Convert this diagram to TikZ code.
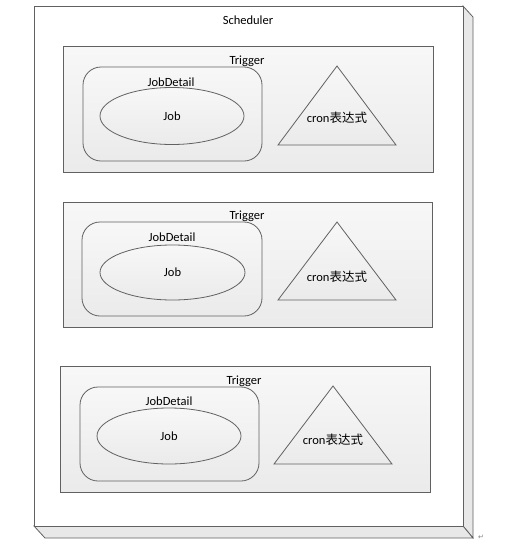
\documentclass[tikz,border=0pt]{standalone}
\usepackage{fontspec}
\setmainfont{Carlito}
\newfontfamily\cjk{Noto Sans CJK SC}
\newfontfamily\symfont{DejaVu Sans}
\usetikzlibrary{positioning,shapes.geometric,shadows}
\definecolor{linecolor}{rgb}{0.38, 0.38, 0.38}
\definecolor{sidecolor}{rgb}{0.91, 0.91, 0.91}

\begin{document}
\begin{tikzpicture}[x=1pt,y=-1pt,font=\fontsize{12.5pt}{15pt}\selectfont,
    trigbox/.style={rectangle, draw=linecolor, line width=0.8pt, top color=white!97!black, bottom color=white!92!black, minimum width=370, minimum height=126, inner sep=0pt, drop shadow={shadow xshift=1.2pt, shadow yshift=-1.2pt, opacity=0.15}},
    jdbox/.style={rectangle, draw=linecolor, line width=0.8pt, rounded corners=18pt, top color=white!97!black, bottom color=white!92!black, minimum width=179, minimum height=94, inner sep=0pt},
    jobell/.style={ellipse, draw=linecolor, line width=0.8pt, top color=white!97!black, bottom color=white!92!black, minimum width=144, minimum height=57, inner sep=0pt},
    tri/.style={draw=linecolor, line width=0.8pt, top color=white!97!black, bottom color=white!92!black, line join=miter}]
    \useasboundingbox (0,0) rectangle (518,544);
    % Scheduler
    \filldraw [sidecolor, draw=linecolor, line width=0.8pt] (463,6) -- (473,17) -- (473,538) -- (463,526) -- cycle;
    \filldraw [sidecolor, draw=linecolor, line width=0.8pt] (34,526) -- (463,526) -- (473,538) -- (45,538) -- cycle;
    \node (sched) [rectangle, draw=linecolor, line width=0.8pt, fill=white, minimum width=429, minimum height=520, inner sep=0pt, anchor=north west] at (34,6) {};
    \node (schedlbl) at (248,20) {Scheduler};
    \node (ret) [font=\symfont\fontsize{7pt}{7pt}\selectfont, text=gray] at (481,537) {↵};

    % Trigger 1
    \node (trig1) [trigbox] at (248,109) {};
    \node (jd1) [jdbox] at (172.5,114) {};
    \node (trig1lbl) at (247,61) {Trigger};
    \node (jd1lbl) at (171,82) {JobDetail};
    \node (job1) [jobell] at (172,116) {Job};
    \coordinate (tri1) at (337,66);
    \draw [tri] (tri1) -- ++(59,79) -- ++(-118,0) -- cycle;
    \node (cron1) at (337,118) {cron{\cjk 表达式}};

    % Trigger 2
    \node (trig2) [trigbox, minimum width=369, minimum height=125] at (247.5,264.5) {};
    \node (jd2) [jdbox, minimum width=180] at (172,269) {};
    \node (trig2lbl) at (247,216) {Trigger};
    \node (jd2lbl) at (172,237) {JobDetail};
    \node (job2) [jobell, minimum width=145, minimum height=55] at (172.5,272.5) {Job};
    \coordinate (tri2) at (337,222);
    \draw [tri] (tri2) -- ++(59,78) -- ++(-118,0) -- cycle;
    \node (cron2) at (337,277) {cron{\cjk 表达式}};

    % Trigger 3
    \node (trig3) [trigbox] at (245,429) {};
    \node (jd3) [jdbox] at (169.5,434) {};
    \node (trig3lbl) at (244,381) {Trigger};
    \node (jd3lbl) at (169,401) {JobDetail};
    \node (job3) [jobell, minimum height=56] at (169,436) {Job};
    \coordinate (tri3) at (333,386);
    \draw [tri] (tri3) -- ++(59,78) -- ++(-118,0) -- cycle;
    \node (cron3) at (333,440) {cron{\cjk 表达式}};
\end{tikzpicture}
\end{document}
